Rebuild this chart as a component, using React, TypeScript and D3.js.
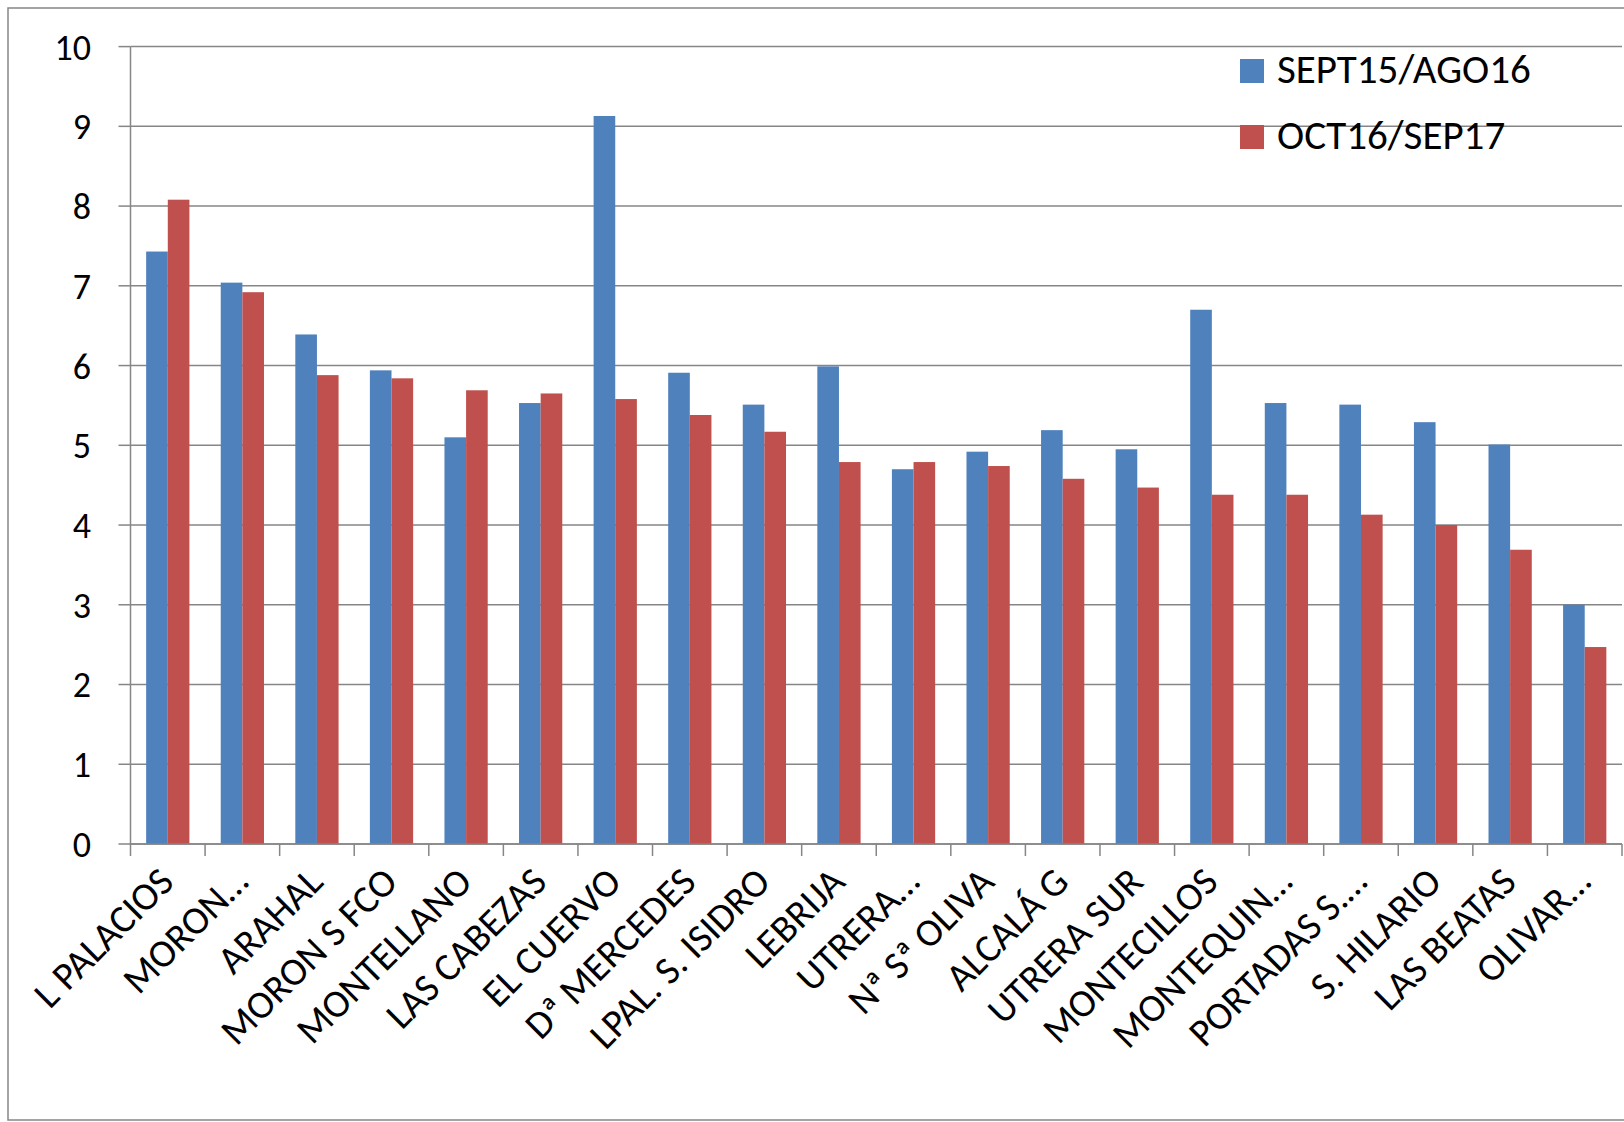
import React from "react";
import * as d3 from "d3";

const categories = [
  "L PALACIOS", "MORON…", "ARAHAL", "MORON S FCO", "MONTELLANO", "LAS CABEZAS",
  "EL CUERVO", "Dª MERCEDES", "LPAL. S. ISIDRO", "LEBRIJA", "UTRERA…", "Nª Sª OLIVA",
  "ALCALÁ G", "UTRERA SUR", "MONTECILLOS", "MONTEQUIN…", "PORTADAS S.…", "S. HILARIO",
  "LAS BEATAS", "OLIVAR…",
];
const sept15 = [7.43, 7.04, 6.39, 5.94, 5.1, 5.53, 9.13, 5.91, 5.51, 5.99, 4.7, 4.92, 5.19, 4.95, 6.7, 5.53, 5.51, 5.29, 5.01, 3.0];
const oct16 = [8.08, 6.92, 5.88, 5.84, 5.69, 5.65, 5.58, 5.38, 5.17, 4.79, 4.79, 4.74, 4.58, 4.47, 4.38, 4.38, 4.13, 4.0, 3.69, 2.47];
const yTicks = [0, 1, 2, 3, 4, 5, 6, 7, 8, 9, 10];
const seriesNames = ["SEPT15/AGO16", "OCT16/SEP17"];
const colors = ["#4f81bd", "#c0504d"];

const font = "Carlito, Lato, 'Liberation Sans', sans-serif";

export default function App() {
  const left = 130.5, right = 1622, top = 46.6, bottom = 844;
  const x = d3.scaleBand().domain(categories).range([left, right]).paddingInner(0.42).paddingOuter(0.21);
  const y = d3.scaleLinear().domain([0, 10]).range([bottom, top]);
  const bw = x.bandwidth() / 2;
  const step = x.step();

  return (
    <svg width={1624} height={1122} style={{ position: "absolute", left: 0, top: 0, fontFamily: font }}>
      <rect x={8} y={8} width={1700} height={1112} fill="white" stroke="#868686" strokeWidth={1.5} />
      {yTicks.map((t) => (
        <g key={t}>
          <line x1={left} x2={right} y1={y(t)} y2={y(t)} stroke="#868686" strokeWidth={1.5} />
          <line x1={left - 12} x2={left} y1={y(t)} y2={y(t)} stroke="#868686" strokeWidth={1.5} />
          <text x={91} y={y(t)} dy="0.36em" textAnchor="end" fontSize={36}>{t}</text>
        </g>
      ))}
      <line x1={left} x2={left} y1={top} y2={bottom} stroke="#868686" strokeWidth={1.5} />
      {categories.map((c, i) => (
        <g key={c}>
          <rect x={x(c)!} y={y(sept15[i])} width={bw} height={bottom - y(sept15[i])} fill={colors[0]} />
          <rect x={x(c)! + bw} y={y(oct16[i])} width={bw} height={bottom - y(oct16[i])} fill={colors[1]} />
          <line x1={left + step * (i + 1)} x2={left + step * (i + 1)} y1={bottom} y2={bottom + 12} stroke="#868686" strokeWidth={1.5} />
          <text
            transform={`translate(${x(c)! + bw + 8},${bottom + 40}) rotate(-45)`}
            textAnchor="end"
            fontSize={39}
          >
            {c}
          </text>
        </g>
      ))}
      <line x1={left} x2={left} y1={bottom} y2={bottom + 12} stroke="#868686" strokeWidth={1.5} />
      <line x1={left} x2={right} y1={bottom} y2={bottom} stroke="#868686" strokeWidth={1.5} />
      {seriesNames.map((s, i) => (
        <g key={s}>
          <rect x={1240} y={59 + i * 66} width={24} height={24} fill={colors[i]} />
          <text x={1277} y={83 + i * 66} fontSize={41}>{s}</text>
        </g>
      ))}
    </svg>
  );
}
